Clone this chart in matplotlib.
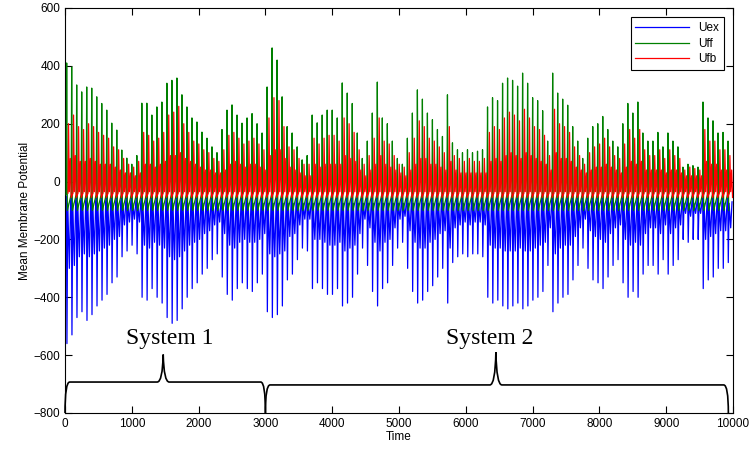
import matplotlib
matplotlib.use("Agg")
import matplotlib.pyplot as plt
import numpy as np
from matplotlib.path import Path
from matplotlib.patches import PathPatch

# one spike per cycle (peak / trough values)
spike_t = np.arange(25, 10000, 75)

uff_peak = [410, 396, 334, 310, 327, 323, 293, 270, 247, 202,
            178, 109, 81, 60, 90, 271, 271, 230, 258, 275,
            340, 350, 358, 300, 258, 220, 206, 171, 150, 120,
            100, 180, 247, 265, 230, 202, 220, 235, 200, 168,
            327, 462, 420, 293, 190, 168, 120, 75, 90, 230,
            203, 230, 247, 247, 220, 341, 306, 270, 168, 80,
            140, 237, 344, 220, 200, 140, 80, 60, 150, 237,
            317, 285, 237, 214, 180, 156, 300, 134, 110, 100,
            110, 100, 105, 110, 258, 290, 280, 340, 358, 350,
            330, 375, 340, 290, 280, 245, 140, 375, 306, 285,
            264, 190, 140, 80, 150, 190, 200, 225, 180, 140,
            120, 200, 270, 237, 275, 168, 140, 140, 170, 120,
            168, 140, 120, 50, 60, 55, 50, 275, 220, 210,
            168, 170, 140]

ufb_peak = [200, 230, 190, 180, 200, 190, 170, 160, 150, 120,
            110, 80, 60, 50, 70, 170, 160, 140, 150, 170,
            230, 240, 260, 200, 170, 140, 130, 110, 100, 80,
            70, 110, 160, 170, 150, 130, 140, 150, 130, 110,
            220, 290, 280, 190, 120, 110, 80, 60, 60, 150,
            130, 150, 160, 160, 140, 220, 200, 170, 110, 60,
            90, 150, 220, 140, 130, 90, 60, 50, 100, 150,
            210, 190, 150, 140, 120, 100, 190, 90, 80, 70,
            80, 70, 70, 80, 170, 190, 180, 220, 240, 230,
            210, 250, 220, 190, 180, 160, 90, 250, 200, 190,
            170, 120, 90, 60, 100, 120, 130, 150, 120, 90,
            80, 130, 180, 150, 180, 110, 90, 90, 110, 80,
            110, 90, 80, 40, 50, 45, 40, 180, 140, 140,
            110, 110, 90]

ufb_mid = [80, 90, 70, 70, 80, 70, 60, 60, 60, 50,
           40, 30, 30, 20, 30, 60, 60, 50, 60, 70,
           90, 90, 100, 80, 70, 60, 50, 40, 40, 30,
           30, 40, 60, 70, 60, 50, 60, 60, 50, 40,
           90, 110, 110, 80, 50, 40, 30, 20, 20, 60,
           50, 60, 60, 60, 60, 90, 80, 70, 40, 20,
           40, 60, 90, 60, 50, 40, 30, 20, 40, 60,
           80, 80, 60, 60, 50, 40, 70, 40, 30, 30,
           30, 30, 30, 30, 70, 80, 70, 90, 100, 90,
           80, 100, 90, 80, 70, 60, 40, 100, 80, 80,
           70, 50, 40, 30, 40, 50, 50, 60, 50, 40,
           30, 50, 70, 60, 70, 40, 40, 40, 40, 30,
           40, 40, 30, 20, 20, 20, 20, 70, 60, 60,
           40, 40, 40]

uex_trough = [-560, -530, -470, -450, -480, -460, -430, -410, -390, -350,
              -330, -260, -240, -220, -250, -400, -410, -370, -400, -420,
              -470, -490, -480, -440, -400, -370, -350, -320, -300, -270,
              -250, -330, -390, -410, -370, -350, -370, -380, -350, -320,
              -450, -470, -460, -430, -340, -320, -270, -230, -240, -370,
              -350, -370, -390, -390, -370, -430, -420, -400, -320, -230,
              -290, -380, -430, -370, -350, -290, -230, -210, -300, -380,
              -420, -410, -380, -360, -330, -300, -420, -280, -260, -250,
              -260, -250, -250, -260, -400, -420, -410, -430, -440, -430,
              -420, -440, -430, -410, -400, -380, -290, -450, -420, -400,
              -390, -340, -290, -230, -300, -340, -350, -370, -330, -290,
              -270, -350, -400, -380, -400, -320, -290, -290, -320, -270,
              -320, -290, -270, -200, -210, -200, -200, -370, -340, -330,
              -300, -300, -280]

uex_mid = [-300, -290, -260, -250, -260, -250, -240, -230, -220, -200,
           -190, -150, -140, -130, -140, -220, -230, -210, -220, -230,
           -260, -270, -260, -240, -220, -210, -200, -180, -170, -150,
           -140, -180, -220, -230, -210, -200, -210, -210, -200, -180,
           -250, -260, -250, -240, -190, -180, -150, -130, -130, -200,
           -200, -210, -220, -220, -210, -240, -230, -220, -180, -130,
           -160, -210, -240, -210, -200, -160, -130, -120, -170, -210,
           -230, -230, -210, -200, -180, -170, -230, -160, -150, -140,
           -150, -140, -140, -150, -220, -230, -230, -240, -240, -240,
           -230, -240, -240, -230, -220, -210, -160, -250, -230, -220,
           -220, -190, -160, -130, -170, -190, -200, -210, -180, -160,
           -150, -200, -220, -210, -220, -180, -160, -160, -180, -150,
           -180, -160, -150, -110, -120, -110, -110, -200, -190, -180,
           -170, -170, -160]

# braces under the traces: [start, end, cusp, level, tip]
brace1 = [0, 3000, 1470, -693, -598]
brace2 = [3000, 9930, 6450, -703, -590]


def trace(times, rows, offsets):
    x = np.add.outer(np.asarray(times, float), offsets).ravel()
    y = np.column_stack(rows).ravel()
    return x, y


n = len(spike_t)
ones = np.ones(n)
gx, gy = trace(spike_t, [-45 * ones, uff_peak, -100 * ones], [-8, 0, 10])
rx, ry = trace(spike_t, [-40 * ones, ufb_peak, -35 * ones, ufb_mid, -55 * ones],
               [20, 28, 40, 55, 68])
bx, by = trace(spike_t, [-50 * ones, uex_trough, -75 * ones, uex_mid, -70 * ones],
               [-4, 4, 16, 40, 60])

plt.rcParams['font.family'] = ['Liberation Sans', 'DejaVu Sans']

fig = plt.figure(figsize=(7.55, 4.57), dpi=100)
ax = fig.add_axes([0.0861, 0.0963, 0.8848, 0.8862])

l_ex, = ax.plot(bx, by, color=(0, 0, 1), lw=0.9, label='Uex', zorder=2)
l_ff, = ax.plot(gx, gy, color=(0, 0.5, 0), lw=0.9, label='Uff', zorder=3)
l_fb, = ax.plot(rx, ry, color=(1, 0, 0), lw=0.9, label='Ufb', zorder=4)


def brace(ax, x0, x1, xc, ylev, ytip, base=-800, dx=70, w=90):
    verts = [(x0, base), (x0, ylev), (x0 + dx, ylev),
             (xc - w, ylev),
             (xc - 10, ylev), (xc, ytip),
             (xc + 10, ylev), (xc + w, ylev),
             (x1 - dx, ylev),
             (x1, ylev), (x1, base)]
    codes = [Path.MOVETO, Path.CURVE3, Path.CURVE3,
             Path.LINETO,
             Path.CURVE3, Path.CURVE3,
             Path.CURVE3, Path.CURVE3,
             Path.LINETO,
             Path.CURVE3, Path.CURVE3]
    ax.add_patch(PathPatch(Path(verts, codes), fill=False, ec='black', lw=1.2,
                           clip_on=False, zorder=5))


brace(ax, *brace1)
brace(ax, *brace2)
ax.text(1570, -562, 'System 1', family='Liberation Serif', fontsize=17,
        ha='center', va='baseline')
ax.text(6360, -562, 'System 2', family='Liberation Serif', fontsize=17,
        ha='center', va='baseline')

ax.set_xlim(0, 10000)
ax.set_ylim(-800, 600)
ax.set_xticks(np.arange(0, 10001, 1000))
ax.set_yticks(np.arange(-800, 601, 200))
ax.tick_params(direction='in', top=True, right=True, length=5, labelsize=8.5)
ax.set_xlabel('Time', fontsize=8.5, labelpad=1)
ax.set_ylabel('Mean Membrane Potential', fontsize=8.5, labelpad=2)

leg = ax.legend([l_ex, l_ff, l_fb], ['Uex', 'Uff', 'Ufb'], loc='upper right',
                fontsize=8.5, fancybox=False, framealpha=1, edgecolor='black',
                handlelength=4.5, borderaxespad=0.8, labelspacing=0.3)
leg.get_frame().set_linewidth(0.8)
leg.set_zorder(10)

fig.savefig('out.png', dpi=100)
